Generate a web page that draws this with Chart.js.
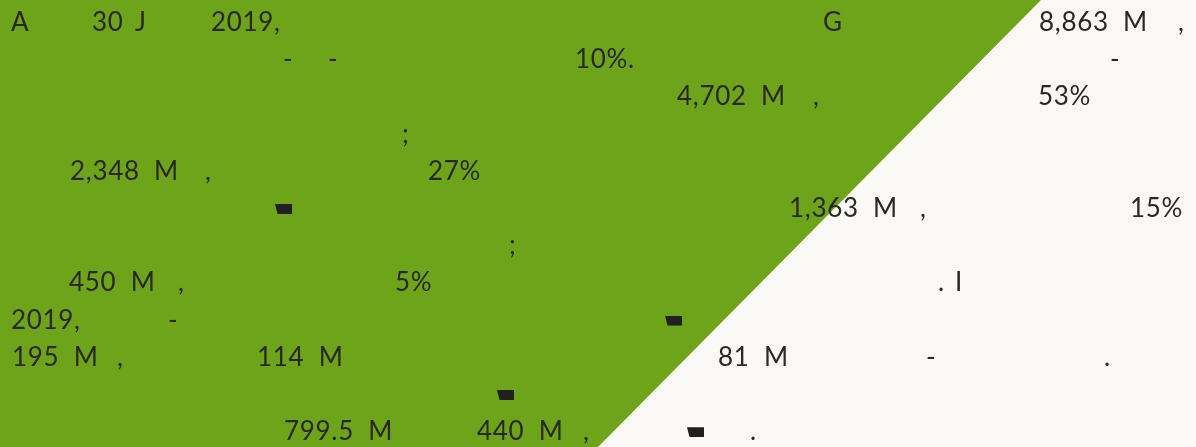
<!DOCTYPE html>
<html>
<head>
<meta charset="utf-8">
<script src="https://cdn.jsdelivr.net/npm/chart.js@4"></script>
<style>
  html, body { margin: 0; padding: 0; background: #faf9f5; }
  #wrap { position: relative; width: 1196px; height: 447px; overflow: hidden; }
  #bg { position: absolute; left: 0; top: 0; }
  #txt { position: absolute; left: 0; top: 0; width: 1196px; height: 447px;
         font-family: Lato, "Open Sans", sans-serif; font-size: 26px; letter-spacing: 0.7px;
         word-spacing: 7px; color: #2b2727; }
  .tok { position: absolute; white-space: pre; line-height: 1; }
  .blk { position: absolute; width: 17px; height: 10px; background: #231f20;
         clip-path: polygon(0 0, 100% 0, 100% 100%, 15% 100%); }
</style>
</head>
<body>
<div id="wrap">
  <canvas id="bg" width="1196" height="447"></canvas>
  <div id="txt"></div>
</div>
<script>
// boundary of the green area (x in px of width, y in % of height, from the bottom)
const boundaryX = [0, 598, 1041, 1196];
const boundaryY = [0, 0, 100, 100];

// text tokens that are legible: [line, x, text]
const lineTokens = [
    [0, 11, 'A'], [0, 92, '30'], [0, 135, 'J'], [0, 211, '2019,'], [0, 823, 'G'],
    [0, 1039, '8,863 M'], [0, 1178, ','],
    [1, 283, '-'], [1, 328, '-'], [1, 575, '10%.'], [1, 1110, '-'],
    [2, 677, '4,702 M'], [2, 813, ','], [2, 1038, '53%'],
    [3, 402, ';'],
    [4, 70, '2,348 M'], [4, 205, ','], [4, 428, '27%'],
    [5, 789, '1,363 M'], [5, 920, ','], [5, 1130, '15%'],
    [6, 509, ';'],
    [7, 69, '450 M'], [7, 178, ','], [7, 395, '5%'], [7, 938, '.'], [7, 955, 'I'],
    [8, 11, '2019,'], [8, 168, '-'],
    [9, 12, '195 M'], [9, 117, ','], [9, 257, '114 M'], [9, 718, '81 M'], [9, 926, '-'], [9, 1104, '.'],
    [11, 284, '799.5 M'], [11, 477, '440 M'], [11, 583, ','], [11, 750, '.']
];
const blockMarks = [[5, 275], [8, 665], [10, 497], [11, 687]];

const lineTop = 8;
const lineStep = 37.2;

const txt = document.getElementById('txt');
lineTokens.forEach(function (t) {
    let span = document.createElement('span');
    span.className = 'tok';
    span.textContent = t[2];
    span.style.left = t[1] + 'px';
    span.style.top = (lineTop + t[0] * lineStep) + 'px';
    txt.appendChild(span);
});
blockMarks.forEach(function (b) {
    let d = document.createElement('div');
    d.className = 'blk';
    d.style.left = b[1] + 'px';
    d.style.top = (lineTop + b[0] * lineStep + 10) + 'px';
    txt.appendChild(d);
});

const bgCtx = document.getElementById('bg').getContext('2d');

new Chart(bgCtx, {
    type: 'line',
    data: {
        datasets: [{
            data: boundaryX.map(function (x, i) { return {x: x, y: boundaryY[i]}; }),
            backgroundColor: '#6da419',
            borderWidth: 0,
            pointRadius: 0,
            fill: 'end',
            tension: 0
        }]
    },
    options: {
        responsive: false,
        animation: false,
        layout: { padding: 0 },
        plugins: { legend: { display: false }, tooltip: { enabled: false } },
        scales: {
            x: { type: 'linear', min: 0, max: 1196, display: false },
            y: { min: 0, max: 100, display: false }
        }
    }
});
</script>
</body>
</html>
